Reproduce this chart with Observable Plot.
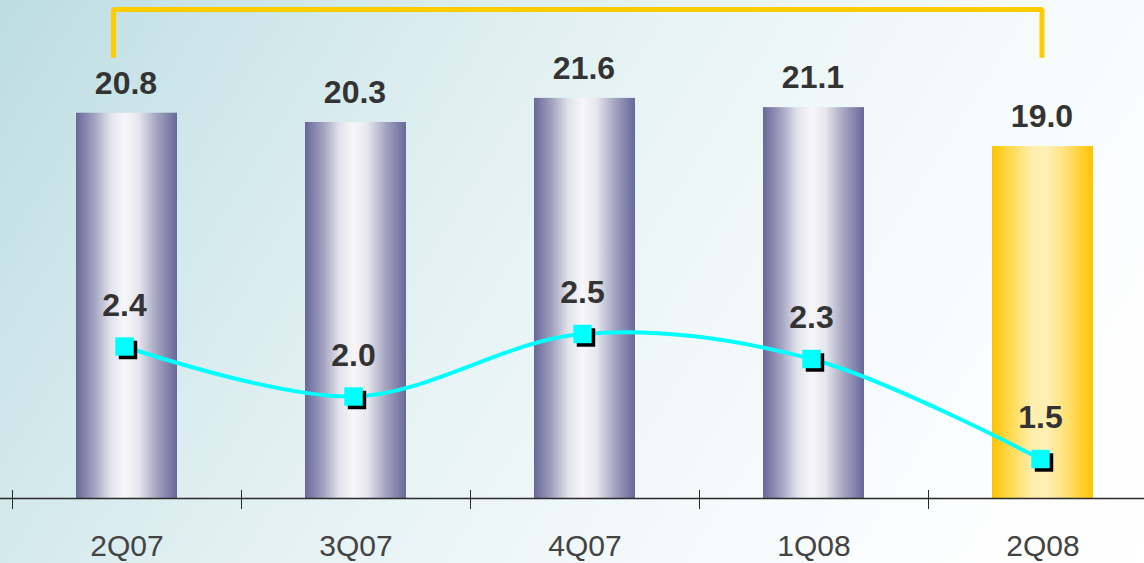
<!DOCTYPE html>
<html>
<head>
<meta charset="utf-8">
<script src="https://cdn.jsdelivr.net/npm/d3@7"></script>
<script src="https://cdn.jsdelivr.net/npm/@observablehq/plot@0.6"></script>
<style>
  html, body { margin: 0; padding: 0; }
  #chart {
    position: relative; width: 1144px; height: 563px; overflow: hidden;
    background: linear-gradient(122deg, #bddde1 0%, #d3e9ec 22%, #e5f2f4 42%, #f3f9fa 65%, #fcfdfe 85%, #ffffff 100%);
  }
  #chart svg { position: absolute; left: 0; top: 0; }
</style>
</head>
<body>
<div id="chart"></div>
<script>
// ---- data ----
const quarters = ["2Q07", "3Q07", "4Q07", "1Q08", "2Q08"];
const barValues = [20.8, 20.3, 21.6, 21.1, 19.0];
const lineValues = [2.4, 2.0, 2.5, 2.3, 1.5];
const highlight = "2Q08";
const bracketFrom = "2Q07", bracketTo = "2Q08";

const bars = quarters.map((q, i) => ({q, v: barValues[i]}));
const pts = quarters.map((q, i) => ({q, v: lineValues[i]}));

const W = 1144, H = 563;
const xScale = {domain: quarters, range: [12, 1157], paddingInner: 0.56, paddingOuter: 0.28};
const FONT = "'Liberation Sans', Arial, sans-serif";

// bracket levels (in bar-value units)
const bracketTop = 26.4, bracketBottom = 23.8;
const bracketA = [{q: bracketFrom, v: bracketBottom}, {q: bracketFrom, v: bracketTop}, {q: bracketTo, v: bracketTop}];
const bracketB = [{q: bracketFrom, v: bracketTop}, {q: bracketTo, v: bracketTop}, {q: bracketTo, v: bracketBottom}];
const bracketStyle = {x: "q", y: "v", stroke: "#FFCC00", strokeWidth: 5, strokeLinejoin: "miter", strokeLinecap: "butt"};

const p1 = Plot.plot({
  width: W, height: H,
  marginTop: 0, marginRight: 0, marginBottom: 0, marginLeft: 0,
  style: {background: "transparent", fontFamily: FONT, overflow: "visible"},
  x: {...xScale, axis: null},
  y: {domain: [0, 20.8], range: [498, 112.7], axis: null},
  marks: [
    Plot.barY(bars.filter(d => d.q !== highlight), {x: "q", y: "v", fill: "url(#silverGrad)"}),
    Plot.barY(bars.filter(d => d.q === highlight), {x: "q", y: "v", fill: "url(#goldGrad)"}),
    Plot.ruleY([0], {stroke: "#2a2a2a", strokeWidth: 1.5}),
    Plot.ruleX(quarters, {x: d => d, y1: 0, y2: 0, dx: -114.5, insetTop: 11, insetBottom: 8, stroke: "#2a2a2a", strokeWidth: 1}),
    Plot.text(bars, {x: "q", y: "v", text: d => d.v.toFixed(1), dy: -29.5, dx: -1,
      fontSize: 32, fontWeight: "bold", fill: "#333333", fontFamily: FONT}),
    Plot.text(quarters, {x: d => d, y: 0, text: d => d, dy: 48,
      fontSize: 30, fill: "#444444", fontFamily: FONT}),
    // bracket
    Plot.line(bracketA, {...bracketStyle, dx: -13.5}),
    Plot.line(bracketB, {...bracketStyle, dx: -1})
  ]
});

const defs = d3.select(p1).insert("defs", ":first-child");
const silver = defs.append("linearGradient").attr("id", "silverGrad").attr("x1", 0).attr("x2", 1).attr("y1", 0).attr("y2", 0);
[[0, "#68689a"], [0.18, "#a2a2c0"], [0.34, "#e2e2ec"], [0.48, "#f7f7fa"], [0.62, "#e6e6ee"], [0.8, "#a4a4c0"], [1, "#68689a"]]
  .forEach(([o, c]) => silver.append("stop").attr("offset", o).attr("stop-color", c));
const gold = defs.append("linearGradient").attr("id", "goldGrad").attr("x1", 0).attr("x2", 1).attr("y1", 0).attr("y2", 0);
[[0, "#ffc400"], [0.2, "#ffdc5a"], [0.4, "#ffeeae"], [0.55, "#fff0b4"], [0.75, "#ffdf70"], [1, "#ffc400"]]
  .forEach(([o, c]) => gold.append("stop").attr("offset", o).attr("stop-color", c));

const p2 = Plot.plot({
  width: W, height: H,
  marginTop: 0, marginRight: 0, marginBottom: 0, marginLeft: 0,
  style: {background: "transparent", fontFamily: FONT, overflow: "visible"},
  x: {...xScale, axis: null},
  y: {domain: [1.5, 2.5], range: [458.5, 333.5], axis: null},
  marks: [
    Plot.line(pts, {x: "q", y: "v", dx: -3, stroke: "#00FFFF", strokeWidth: 4, curve: "catmull-rom"}),
    Plot.dot(pts, {x: "q", y: "v", dx: 0.5, dy: 3.5, symbol: "square", r: 10.4, fill: "#000000", stroke: "none"}),
    Plot.dot(pts, {x: "q", y: "v", dx: -3, symbol: "square", r: 10.4, fill: "#00FFFF", stroke: "none"}),
    Plot.text(pts, {x: "q", y: "v", text: d => d.v.toFixed(1), dy: -41, dx: -3,
      fontSize: 32, fontWeight: "bold", fill: "#333333", fontFamily: FONT})
  ]
});

const host = document.getElementById("chart");
host.appendChild(p1);
host.appendChild(p2);
</script>
</body>
</html>
